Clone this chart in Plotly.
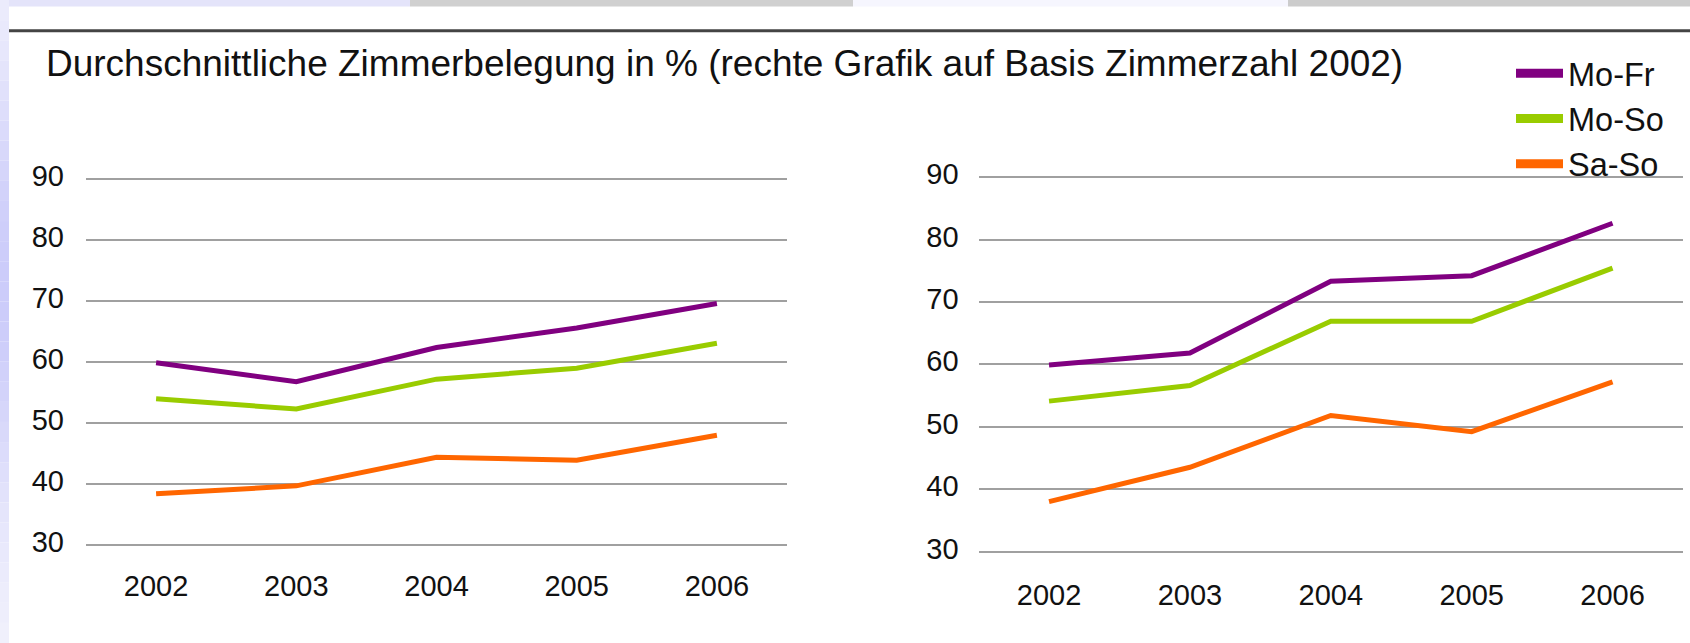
import math
import plotly.graph_objects as go

years = ["2002", "2003", "2004", "2005", "2006"]
series_names = ["Mo-Fr", "Mo-So", "Sa-So"]
left_mofr = [59.9, 56.8, 62.4, 65.6, 69.6]
left_moso = [54.0, 52.3, 57.2, 59.0, 63.1]
left_saso = [38.4, 39.7, 44.4, 43.9, 48.0]
right_mofr = [59.9, 61.8, 73.3, 74.2, 82.6]
right_moso = [54.1, 56.6, 66.9, 66.9, 75.4]
right_saso = [38.0, 43.5, 51.8, 49.2, 57.2]
y_ticks = [30, 40, 50, 60, 70, 80, 90]
title_text = "Durchschnittliche Zimmerbelegung in % (rechte Grafik auf Basis Zimmerzahl 2002)"

colors = ["#800080", "#99CC00", "#FF6600"]
W, H = 1690, 643
FONT = "Liberation Sans, Arial, sans-serif"
TXT = "#111111"

fig = go.Figure()

left = [left_mofr, left_moso, left_saso]
right = [right_mofr, right_moso, right_saso]
for vals, c in zip(left, colors):
    fig.add_trace(go.Scatter(x=years, y=vals, mode="lines", line=dict(color=c, width=5),
                             showlegend=False, xaxis="x", yaxis="y", hoverinfo="skip"))
for vals, c in zip(right, colors):
    fig.add_trace(go.Scatter(x=years, y=vals, mode="lines", line=dict(color=c, width=5),
                             showlegend=False, xaxis="x2", yaxis="y2", hoverinfo="skip"))
for name, c in zip(series_names, colors):
    fig.add_trace(go.Scatter(x=[None], y=[None], mode="lines", name=name,
                             line=dict(color=c, width=9), xaxis="x2", yaxis="y2"))

def px_dom_x(a, b):
    return [a / W, b / W]

def px_dom_y(top, bottom):
    return [1 - bottom / H, 1 - top / H]

def ydom(y90, y30, pad=0.5):
    ppu = (y30 - y90) / 60.0
    return px_dom_y(y90 - pad * ppu, y30 + pad * ppu)

axis_common_x = dict(type="category", range=[-0.5, 4.5], showgrid=False, showline=False,
                     zeroline=False, ticks="", tickfont=dict(family=FONT, size=29, color=TXT),
                     fixedrange=True, automargin=False)
axis_common_y = dict(range=[29.5, 90.5], tickvals=y_ticks, showgrid=True, gridcolor="#A0A0A0",
                     gridwidth=2, showline=False, zeroline=False, ticks="", ticklabelshift=-3,
                     tickfont=dict(family=FONT, size=29, color=TXT), fixedrange=True, automargin=False)

fig.update_layout(
    width=W, height=H,
    margin=dict(l=0, r=0, t=0, b=0, autoexpand=False),
    paper_bgcolor="white", plot_bgcolor="rgba(0,0,0,0)",
    xaxis=dict(domain=px_dom_x(86, 787), anchor="y", ticklabelstandoff=18, **axis_common_x),
    yaxis=dict(domain=ydom(179.2, 545.0), anchor="x", ticklabelstandoff=21, **axis_common_y),
    xaxis2=dict(domain=px_dom_x(978.6, 1683), anchor="y2", ticklabelstandoff=20, **axis_common_x),
    yaxis2=dict(domain=ydom(177.1, 551.5), anchor="x2", ticklabelstandoff=19, **axis_common_y),
    legend=dict(x=1511 / W, y=1 - 45.5 / H, xanchor="left", yanchor="top",
                font=dict(family=FONT, size=32.5, color=TXT), bgcolor="rgba(0,0,0,0)",
                itemwidth=47, tracegroupgap=0),
    showlegend=True,
)

fig.add_annotation(text=title_text, xref="paper", yref="paper", x=44 / W, y=1 - 64 / H,
                   xanchor="left", yanchor="middle", showarrow=False,
                   font=dict(family=FONT, size=37, color=TXT))

shapes = []
strip = [(0, 410, "#E4E4FA"), (410, 853, "#D0D0D0"), (853, 1288, "#F6F6FE"), (1288, 1690, "#CCCCCC")]
for a, b, col in strip:
    shapes.append(dict(type="rect", xref="paper", yref="paper", x0=a / W, x1=b / W, y0=1 - 6.5 / H, y1=1,
                       fillcolor=col, line=dict(width=0), layer="below"))
n = 32
for i in range(n):
    t = (i + 0.5) / n
    d = math.exp(-((t - 0.45) / 0.35) ** 2)
    r = int(0xF4 - (0xF4 - 0xCC) * d)
    b = int(0xFD - 3 * d)
    shapes.append(dict(type="rect", xref="paper", yref="paper", x0=0, x1=9 / W,
                       y0=1 - (i + 1) / n, y1=1 - i / n,
                       fillcolor=f"rgb({r},{r},{b})", line=dict(width=0), layer="below"))
shapes.append(dict(type="line", xref="paper", yref="paper", x0=9 / W, x1=1, y0=1 - 30.8 / H, y1=1 - 30.8 / H,
                   line=dict(color="#444444", width=3), layer="below"))
fig.update_layout(shapes=shapes)

fig.write_html("out.html", config={"displayModeBar": False},
               post_script="document.documentElement.style.margin='0';document.body.style.margin='0';")
